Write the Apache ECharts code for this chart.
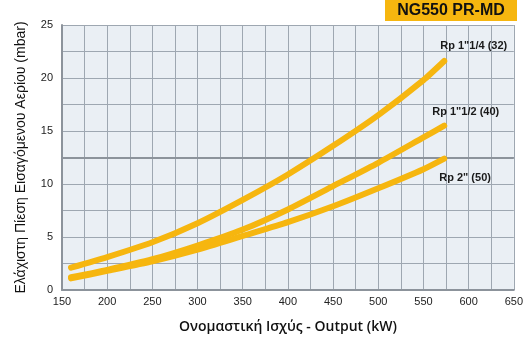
<!DOCTYPE html>
<html><head><meta charset="utf-8">
<script src="https://cdn.jsdelivr.net/npm/echarts@6/dist/echarts.min.js"></script>
<style>html,body{margin:0;padding:0;background:#fff}#c{width:526px;height:351px}</style>
</head><body><div id="c"></div>
<script>
const seriesNames = ['Rp 1"1/4 (32)', 'Rp 1"1/2 (40)', 'Rp 2" (50)'];
const outputKW = [160, 200, 250, 300, 350, 400, 450, 500, 550, 573];
const rp114 = [2.1, 3.1, 4.5, 6.3, 8.5, 10.9, 13.6, 16.5, 19.8, 21.6];
const rp112 = [1.2, 1.9, 2.9, 4.2, 5.7, 7.6, 9.8, 12.0, 14.4, 15.5];
const rp2   = [1.1, 1.8, 2.7, 3.8, 5.1, 6.4, 7.9, 9.6, 11.4, 12.4];
const xTicks = {min: 150, max: 650, step: 25};
const yTicks = {min: 0, max: 25, step: 2.5};
const highlightY = 12.5;
const titleText = 'NG550 PR-MD';
const xName = 'Ονομαστική Ισχύς - Output (kW)';
const yName = 'Ελάχιστη Πίεση Εισαγόμενου Αερίου (mbar)';

const gold = '#f6b60f';
const values = [rp114, rp112, rp2];
const labelOffsets = [[-12, -15], [-20, -14], [-13, 19]];
const chart = echarts.init(document.getElementById('c'));
chart.setOption({
  animation: false,
  grid: {left: 62, right: 9, top: 25, bottom: 61, show: true, backgroundColor: '#eaeff4', borderWidth: 0},
  xAxis: {
    type: 'value', min: xTicks.min, max: xTicks.max, interval: xTicks.step,
    name: xName, nameLocation: 'middle', nameGap: 30,
    nameTextStyle: {fontFamily: 'Open Sans', fontWeight: 600, fontSize: 14, color: '#111'},
    axisLine: {show: true, lineStyle: {color: '#8c939b', width: 2}},
    axisTick: {show: false},
    axisLabel: {interval: 1, color: '#222', fontFamily: 'Liberation Sans', fontSize: 11, margin: 6,
      formatter: v => (v % 50 === 0 ? String(v) : '')},
    splitLine: {show: true, lineStyle: {color: '#9ea7b1', width: 1}}
  },
  yAxis: {
    type: 'value', min: yTicks.min, max: yTicks.max, interval: yTicks.step,
    name: yName, nameLocation: 'middle', nameGap: 34, nameRotate: 90,
    nameTextStyle: {fontFamily: 'Liberation Sans', fontSize: 14, color: '#111'},
    axisLine: {show: true, lineStyle: {color: '#8c939b', width: 2}},
    axisTick: {show: false},
    axisLabel: {color: '#222', fontFamily: 'Liberation Sans', fontSize: 11, margin: 9,
      formatter: v => (v % 5 === 0 ? String(v) : '')},
    splitLine: {show: true, lineStyle: {color: '#9ea7b1', width: 1}}
  },
  series: values.map((vals, i) => ({
    type: 'line', name: seriesNames[i], smooth: 0.2, showSymbol: false,
    data: outputKW.map((x, j) => [x, vals[j]]),
    lineStyle: {color: gold, width: 6, cap: 'round'},
    z: 3 + i,
    endLabel: {show: true, formatter: seriesNames[i], offset: labelOffsets[i],
      fontFamily: 'Liberation Sans', fontWeight: 'bold', fontSize: 11, color: '#1a1a1a'},
    markLine: i === 2 ? {silent: true, symbol: 'none', label: {show: false},
      lineStyle: {color: '#8c939b', width: 2, type: 'solid'}, data: [{yAxis: highlightY}], z: 1} : undefined
  })),
  graphic: [
    {type: 'rect', shape: {x: 385, y: 0, width: 132, height: 21}, style: {fill: gold}},
    {type: 'text', x: 451, y: 11, style: {text: titleText, fill: '#111', font: 'bold 16px "Liberation Sans"', align: 'center', verticalAlign: 'middle'}}
  ]
});
</script></body></html>
